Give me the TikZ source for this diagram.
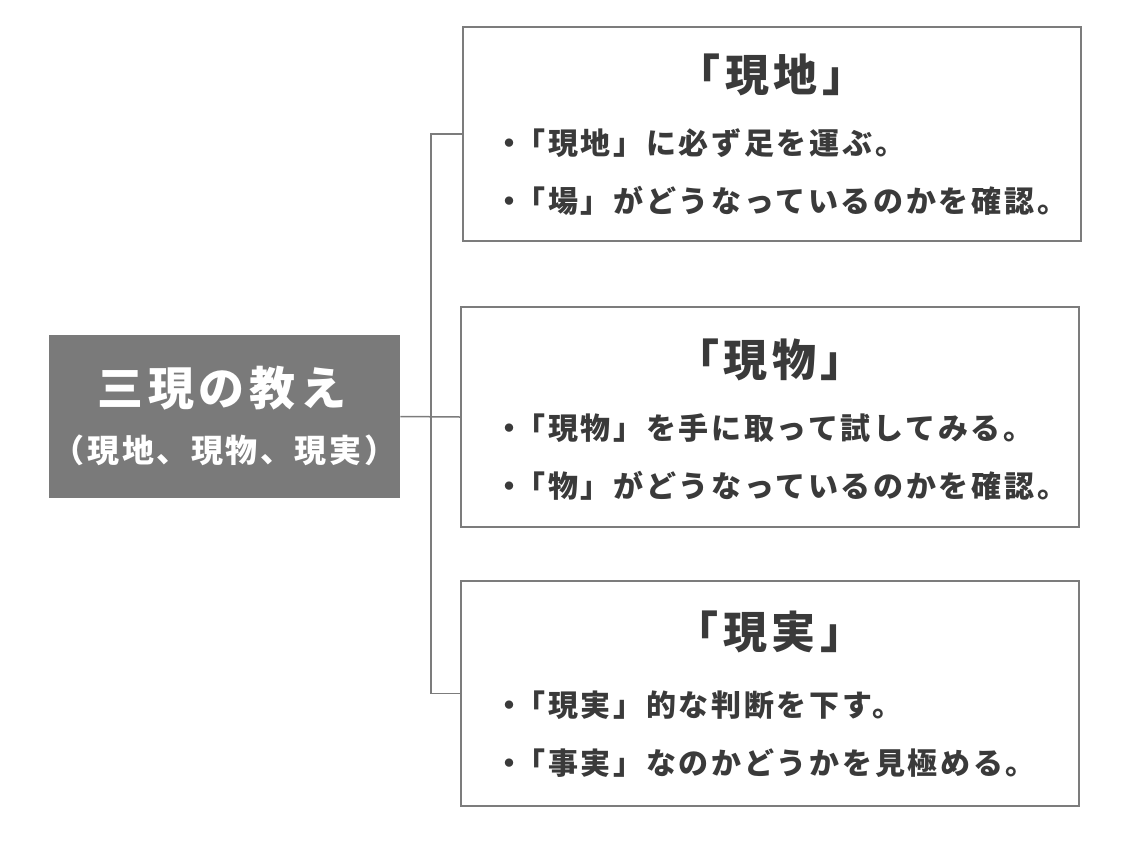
\documentclass[tikz,border=0pt]{standalone}
\usepackage{fontspec}
\newfontfamily\jpfont{Noto Sans CJK JP}[LetterSpace=10]
\newfontfamily\jpitem{Noto Sans CJK JP}[LetterSpace=9]
\newfontfamily\jpsub{Noto Sans CJK JP}[LetterSpace=8]
\usetikzlibrary{positioning}
\definecolor{boxgray}{HTML}{7A7A7A}
\definecolor{linegray}{HTML}{7C7C7C}
\definecolor{textgray}{HTML}{3A3A3A}
\newcommand{\dotmark}{・\kern-4.5pt}
\tikzset{
  mainbox/.style={fill=boxgray, draw=none, minimum width=175.5pt, minimum height=81.5pt},
  genbox/.style={draw=linegray, line width=1pt, minimum width=309pt},
  gentitle/.style={font=\jpfont\bfseries\fontsize{22}{22}\selectfont, text=textgray, inner sep=0},
  genitem/.style={font=\jpitem\bfseries\fontsize{15}{15}\selectfont, text=textgray, inner sep=0, anchor=west},
  link/.style={draw=linegray, line width=0.75pt}
}
\begin{document}
\begin{tikzpicture}[x=0.5pt,y=-0.5pt]
  \useasboundingbox (0,0) rectangle (1140,841);
  % left box
  \node[mainbox] (san) at (224.5,416.5) {};
  \node[text=white, inner sep=0, font=\jpfont\bfseries\fontsize{23}{23}\selectfont] (santitle) at (222,388) {三現の教え};
  \node[text=white, inner sep=0, font=\jpsub\bfseries\fontsize{16}{16}\selectfont] (sansub) at (224.5,450) {（現地、現物、現実）};
  % right boxes
  \node[genbox, minimum height=107pt] (genchi) at (771.5,134) {};
  \node[gentitle] (genchiT) at (771.5,75) {「現地」};
  \node[genitem] (genchiA) at (494,143) {\dotmark「現地」に必ず足を運ぶ。};
  \node[genitem] (genchiB) at (494,201) {\dotmark「場」がどうなっているのかを確認。};
  \node[genbox, minimum height=110pt] (genbutsu) at (770,417) {};
  \node[gentitle] (genbutsuT) at (770,360) {「現物」};
  \node[genitem] (genbutsuA) at (494,428) {\dotmark「現物」を手に取って試してみる。};
  \node[genitem] (genbutsuB) at (494,486) {\dotmark「物」がどうなっているのかを確認。};
  \node[genbox, minimum height=112.5pt] (genjitsu) at (769.5,693.5) {};
  \node[gentitle] (genjitsuT) at (769.5,632) {「現実」};
  \node[genitem] (genjitsuA) at (494,705) {\dotmark「現実」的な判断を下す。};
  \node[genitem] (genjitsuB) at (494,763) {\dotmark「事実」なのかどうかを見極める。};
  % connectors
  \coordinate (trunk) at (431,416);
  \draw[link] (san.east) -- (genbutsu.west);
  \draw[link] (genchi.west) -- (genchi.west -| trunk) -- (genjitsu.west -| trunk) -- (genjitsu.west);
\end{tikzpicture}
\end{document}
